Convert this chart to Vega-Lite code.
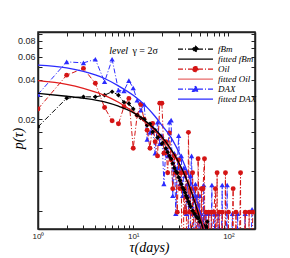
{
  "$schema": "https://vega.github.io/schema/vega-lite/v6.json",
  "width": 217,
  "height": 197,
  "autosize": {"type": "none"},
  "padding": {"left": 38, "top": 32, "right": 35, "bottom": 29},
  "config": {
    "view": {"stroke": "#222", "strokeWidth": 1.5},
    "axis": {"grid": false, "domainColor": "#222", "domainWidth": 1.5, "tickColor": "#222", "tickSize": -4, "tickWidth": 1, "labelColor": "#222", "labelFont": "Liberation Sans", "labelFontSize": 9, "labelOverlap": false, "labelFlush": false},
    "legend": {"rowPadding": 0}
  },
  "datasets": {
    "dax": [
      {"t":1,"p":0.031},{"t":2,"p":0.055},{"t":3,"p":0.054},{"t":4,"p":0.0575},{"t":5,"p":0.0387},{"t":6,"p":0.0575},{"t":7,"p":0.0334},{"t":8,"p":0.033},{"t":9,"p":0.0395},{"t":10,"p":0.0347},
      {"t":11,"p":0.028},{"t":12,"p":0.0235},{"t":13,"p":0.026},{"t":14,"p":0.014},{"t":15,"p":0.0159},{"t":16,"p":0.0175},{"t":17,"p":0.011},{"t":18,"p":0.019},{"t":19,"p":0.013},{"t":20,"p":0.015},
      {"t":21,"p":0.0064},{"t":22,"p":0.012},{"t":23,"p":0.0105},{"t":24,"p":0.019},{"t":25,"p":0.0197},{"t":26,"p":0.0052},{"t":27,"p":0.011},{"t":28,"p":0.0038},{"t":29,"p":0.0085},{"t":30,"p":0.015},
      {"t":31,"p":0.0064},{"t":32,"p":0.0105},{"t":33,"p":0.0052},{"t":34,"p":0.0085},{"t":35,"p":0.0074},{"t":36,"p":0.0038},{"t":37,"p":0.0064},{"t":38,"p":0.0052},{"t":39,"p":0.0001},{"t":40,"p":0.0074},
      {"t":41,"p":0.0105},{"t":42,"p":0.0038},{"t":43,"p":0.0052},{"t":44,"p":0.0001},{"t":45,"p":0.0064},{"t":46,"p":0.0038},{"t":47,"p":0.0052},{"t":48,"p":0.0001},{"t":49,"p":0.0038},{"t":50,"p":0.0052},
      {"t":51,"p":0.0001},{"t":52,"p":0.0038},{"t":53,"p":0.0001},{"t":55,"p":0.0063},{"t":56,"p":0.0001},{"t":58,"p":0.0038},{"t":60,"p":0.0001},{"t":62,"p":0.0038},{"t":63,"p":0.0001},{"t":67,"p":0.0063},
      {"t":68,"p":0.0001},{"t":72,"p":0.0038},{"t":73,"p":0.0001},{"t":78,"p":0.0038},{"t":79,"p":0.0001},{"t":86,"p":0.0063},{"t":87,"p":0.0001},{"t":97,"p":0.0063},{"t":98,"p":0.0001},{"t":110,"p":0.0038},
      {"t":111,"p":0.0001},{"t":125,"p":0.0038},{"t":127,"p":0.0001},{"t":150,"p":0.0038},{"t":152,"p":0.0001},{"t":177,"p":0.0041}
    ],
    "oil": [
      {"t":1,"p":0.024},{"t":2,"p":0.0435},{"t":3,"p":0.049},{"t":4,"p":0.0377},{"t":5,"p":0.0246},{"t":6,"p":0.0195},{"t":7,"p":0.0185},{"t":8,"p":0.025},{"t":9,"p":0.0289},{"t":10,"p":0.012},
      {"t":11,"p":0.0215},{"t":12,"p":0.026},{"t":13,"p":0.02},{"t":14,"p":0.0165},{"t":15,"p":0.012},{"t":16,"p":0.0186},{"t":17,"p":0.0135},{"t":18,"p":0.0105},{"t":19,"p":0.0265},{"t":20,"p":0.0265},
      {"t":21,"p":0.011},{"t":22,"p":0.0135},{"t":23,"p":0.0078},{"t":24,"p":0.0157},{"t":25,"p":0.0098},{"t":26,"p":0.0059},{"t":27,"p":0.0105},{"t":28,"p":0.0078},{"t":29,"p":0.0039},{"t":30,"p":0.0098},
      {"t":31,"p":0.0059},{"t":32,"p":0.0078},{"t":33,"p":0.0001},{"t":34,"p":0.0059},{"t":35,"p":0.0039},{"t":36,"p":0.0078},{"t":37,"p":0.0001},{"t":38,"p":0.0159},{"t":39,"p":0.0039},{"t":40,"p":0.0059},
      {"t":41,"p":0.0001},{"t":42,"p":0.0078},{"t":43,"p":0.0039},{"t":44,"p":0.0001},{"t":45,"p":0.0059},{"t":46,"p":0.0039},{"t":47,"p":0.0001},{"t":48,"p":0.01},{"t":49,"p":0.0039},{"t":50,"p":0.0001},
      {"t":52,"p":0.0059},{"t":53,"p":0.0001},{"t":54,"p":0.0059},{"t":56,"p":0.01},{"t":57,"p":0.0001},{"t":58,"p":0.0039},{"t":60,"p":0.0001},{"t":62,"p":0.0039},{"t":64,"p":0.0001},{"t":66,"p":0.0039},
      {"t":68,"p":0.0001},{"t":70,"p":0.0039},{"t":73,"p":0.0059},{"t":74,"p":0.0001},{"t":76,"p":0.0078},{"t":77,"p":0.0001},{"t":80,"p":0.0039},{"t":82,"p":0.0001},{"t":86,"p":0.0039},{"t":88,"p":0.0001},
      {"t":93,"p":0.0078},{"t":94,"p":0.0001},{"t":100,"p":0.0039},{"t":102,"p":0.0001},{"t":112,"p":0.0059},{"t":113,"p":0.0001},{"t":120,"p":0.0039},{"t":122,"p":0.0001},{"t":134,"p":0.0078},{"t":135,"p":0.0001},
      {"t":150,"p":0.0039},{"t":152,"p":0.0001},{"t":165,"p":0.0039},{"t":167,"p":0.0001},{"t":180,"p":0.0039}
    ],
    "fbm": [
      {"t":1,"p":0.0175},{"t":2,"p":0.029},{"t":3,"p":0.0297},{"t":4,"p":0.0297},{"t":5,"p":0.0306},{"t":6,"p":0.0325},{"t":7,"p":0.0306},{"t":8,"p":0.027},{"t":9,"p":0.0264},{"t":10,"p":0.024},
      {"t":11,"p":0.0215},{"t":12,"p":0.0205},{"t":13,"p":0.02},{"t":14,"p":0.018},{"t":15,"p":0.0185},{"t":16,"p":0.016},{"t":17,"p":0.0165},{"t":18,"p":0.0145},{"t":19,"p":0.015},{"t":20,"p":0.013},
      {"t":21,"p":0.0135},{"t":22,"p":0.012},{"t":23,"p":0.0112},{"t":24,"p":0.0105},{"t":25,"p":0.01},{"t":26,"p":0.0092},{"t":27,"p":0.0085},{"t":28,"p":0.008},{"t":29,"p":0.0078},{"t":30,"p":0.0072},
      {"t":31,"p":0.0068},{"t":32,"p":0.0064},{"t":33,"p":0.006},{"t":34,"p":0.0058},{"t":35,"p":0.0055},{"t":36,"p":0.0052},{"t":37,"p":0.005},{"t":38,"p":0.0047},{"t":39,"p":0.0045},{"t":40,"p":0.0043},
      {"t":42,"p":0.004},{"t":44,"p":0.0038},{"t":46,"p":0.0036},{"t":48,"p":0.0035},{"t":50,"p":0.0033},{"t":52,"p":0.0033},{"t":55,"p":0.0031},{"t":58,"p":0.003},{"t":60,"p":0.0033},{"t":62,"p":0.0001}
    ],
    "fitDax": [
      {"t":1,"p":0.052},{"t":2,"p":0.0495},{"t":3,"p":0.0465},{"t":5,"p":0.041},{"t":7,"p":0.036},{"t":10,"p":0.0305},{"t":13,"p":0.026},{"t":17,"p":0.021},{"t":20,"p":0.018},{"t":25,"p":0.0145},
      {"t":30,"p":0.0113},{"t":35,"p":0.0088},{"t":40,"p":0.0068},{"t":45,"p":0.0052},{"t":50,"p":0.004},{"t":55,"p":0.003},{"t":60,"p":0.0023}
    ],
    "fitOil": [
      {"t":1,"p":0.0395},{"t":2,"p":0.037},{"t":3,"p":0.0345},{"t":5,"p":0.0305},{"t":7,"p":0.027},{"t":10,"p":0.0228},{"t":13,"p":0.0195},{"t":17,"p":0.0163},{"t":20,"p":0.0143},{"t":25,"p":0.0115},
      {"t":30,"p":0.0092},{"t":35,"p":0.0073},{"t":40,"p":0.0058},{"t":45,"p":0.0046},{"t":50,"p":0.0037},{"t":55,"p":0.003},{"t":60,"p":0.0024}
    ],
    "fitFbm": [
      {"t":1,"p":0.0316},{"t":2,"p":0.03},{"t":3,"p":0.029},{"t":5,"p":0.0272},{"t":7,"p":0.0252},{"t":10,"p":0.0225},{"t":13,"p":0.0198},{"t":17,"p":0.0167},{"t":20,"p":0.0147},{"t":25,"p":0.0118},
      {"t":30,"p":0.0094},{"t":35,"p":0.0074},{"t":40,"p":0.0058},{"t":45,"p":0.0045},{"t":50,"p":0.0035},{"t":55,"p":0.0028}
    ],
    "legend": [
      {"s":"fBm","t":1,"p":0.0001},{"s":"fitted fBm","t":1,"p":0.0001},{"s":"Oil","t":1,"p":0.0001},{"s":"fitted Oil","t":1,"p":0.0001},{"s":"DAX","t":1,"p":0.0001},{"s":"fitted DAX","t":1,"p":0.0001}
    ],
    "notes": [
      {"t":5.6,"p":0.067,"txt":"level"},{"t":9.8,"p":0.067,"txt":"γ = 2σ"}
    ]
  },
  "layer": [
    {
      "data": {"name": "dax"},
      "mark": {"type": "line", "color": "#2b2bff", "strokeWidth": 1, "strokeDash": [5, 2, 1, 2], "clip": true,
        "point": {"filled": true, "shape": "triangle-up", "size": 28, "color": "#2b2bff", "opacity": 1}},
      "encoding": {
        "x": {"field": "t", "type": "quantitative",
          "scale": {"type": "log", "domain": [1, 190], "nice": false},
          "axis": {"orient": "bottom", "values": [1,2,3,4,5,6,7,8,9,10,20,30,40,50,60,70,80,90,100],
            "labelExpr": "datum.value == 1 ? '10⁰' : datum.value == 10 ? '10¹' : datum.value == 100 ? '10²' : ''",
            "labelPadding": 7, "labelFontSize": 8,
            "title": "τ(days)", "titleFont": "Liberation Serif", "titleFontStyle": "italic", "titleFontWeight": "normal", "titleFontSize": 14,
            "titleX": 111, "titleY": 18, "titleBaseline": "middle", "titleAlign": "center", "titleColor": "#000"}},
        "y": {"field": "p", "type": "quantitative",
          "scale": {"type": "log", "domain": [0.0029, 0.093], "nice": false},
          "axis": {"orient": "left", "values": [0.004,0.008,0.012,0.016,0.02,0.03,0.04,0.05,0.06,0.07,0.08,0.09],
            "labelExpr": "(datum.value == 0.02 || datum.value == 0.04 || datum.value == 0.06 || datum.value == 0.08) ? format(datum.value, '.2f') : ''",
            "labelPadding": 7,
            "title": "p(τ)", "titleFont": "Liberation Serif", "titleFontStyle": "italic", "titleFontWeight": "normal", "titleFontSize": 14,
            "titleX": -20, "titleY": 106, "titleBaseline": "middle", "titleAlign": "center", "titleColor": "#000"}}
      }
    },
    {
      "data": {"name": "oil"},
      "mark": {"type": "line", "color": "#d41414", "strokeWidth": 1, "strokeDash": [5, 2, 1, 2], "clip": true,
        "point": {"filled": true, "shape": "circle", "size": 24, "color": "#d41414", "opacity": 1}},
      "encoding": {
        "x": {"field": "t", "type": "quantitative", "axis": null},
        "y": {"field": "p", "type": "quantitative", "axis": null}
      }
    },
    {
      "data": {"name": "fbm"},
      "mark": {"type": "line", "color": "#000000", "strokeWidth": 1, "strokeDash": [5, 2, 1, 2], "clip": true,
        "point": {"filled": true, "shape": "diamond", "size": 22, "color": "#000000", "opacity": 1}},
      "encoding": {
        "x": {"field": "t", "type": "quantitative", "axis": null},
        "y": {"field": "p", "type": "quantitative", "axis": null}
      }
    },
    {
      "data": {"name": "fitDax"},
      "mark": {"type": "line", "color": "#2b2bff", "strokeWidth": 1.3, "interpolate": "monotone", "clip": true},
      "encoding": {
        "x": {"field": "t", "type": "quantitative", "axis": null},
        "y": {"field": "p", "type": "quantitative", "axis": null}
      }
    },
    {
      "data": {"name": "fitOil"},
      "mark": {"type": "line", "color": "#e01e1e", "strokeWidth": 1.3, "interpolate": "monotone", "clip": true},
      "encoding": {
        "x": {"field": "t", "type": "quantitative", "axis": null},
        "y": {"field": "p", "type": "quantitative", "axis": null}
      }
    },
    {
      "data": {"name": "fitFbm"},
      "mark": {"type": "line", "color": "#000000", "strokeWidth": 1.3, "interpolate": "monotone", "clip": true},
      "encoding": {
        "x": {"field": "t", "type": "quantitative", "axis": null},
        "y": {"field": "p", "type": "quantitative", "axis": null}
      }
    },
    {
      "data": {"name": "notes"},
      "transform": [{"filter": "datum.txt == 'level'"}],
      "mark": {"type": "text", "font": "Liberation Serif", "fontStyle": "italic", "fontSize": 10, "align": "left", "baseline": "middle", "color": "#000"},
      "encoding": {
        "x": {"field": "t", "type": "quantitative", "axis": null},
        "y": {"field": "p", "type": "quantitative", "axis": null},
        "text": {"field": "txt"}
      }
    },
    {
      "data": {"name": "notes"},
      "transform": [{"filter": "datum.txt != 'level'"}],
      "mark": {"type": "text", "font": "Liberation Serif", "fontSize": 10, "align": "left", "baseline": "middle", "color": "#000"},
      "encoding": {
        "x": {"field": "t", "type": "quantitative", "axis": null},
        "y": {"field": "p", "type": "quantitative", "axis": null},
        "text": {"field": "txt"}
      }
    },
    {
      "data": {"name": "legend"},
      "mark": {"type": "point", "filled": true, "opacity": 1, "size": 49, "clip": true, "strokeWidth": 1.2},
      "encoding": {
        "x": {"field": "t", "type": "quantitative", "axis": null},
        "y": {"field": "p", "type": "quantitative", "axis": null},
        "fill": {"field": "s", "type": "nominal",
          "scale": {"domain": ["fBm","fitted fBm","Oil","fitted Oil","DAX","fitted DAX"], "range": ["#000000","#000000","#d41414","#e86a6a","#2b2bff","#2b2bff"]},
          "legend": {"title": null, "orient": "none", "legendX": 140, "legendY": 12.4, "padding": 0, "symbolSize": 49, "symbolStrokeWidth": 1.2,
            "labelFont": "Liberation Serif", "labelFontStyle": "italic", "labelFontSize": 9, "labelOffset": 31, "rowPadding": 0, "clipHeight": 9.4,
            "labelColor": "#000", "symbolOpacity": 1}},
        "stroke": {"field": "s", "type": "nominal",
          "scale": {"domain": ["fBm","fitted fBm","Oil","fitted Oil","DAX","fitted DAX"], "range": ["#000000","#000000","#d41414","#e86a6a","#2b2bff","#2b2bff"]}},
        "shape": {"field": "s", "type": "nominal",
          "scale": {"domain": ["fBm","fitted fBm","Oil","fitted Oil","DAX","fitted DAX"],
            "range": [
              "M-1.29,0H8.71M3.71,-0.86L4.57,0L3.71,0.86L2.85,0Z",
              "M-1.29,0H8.71",
              "M-1.29,0H8.71M2.96,0A0.75,0.75 0 1,0 4.46,0A0.75,0.75 0 1,0 2.96,0Z",
              "M-1.29,0H8.71",
              "M-1.29,0H8.71M3.71,-0.9L4.56,0.65L2.86,0.65Z",
              "M-1.29,0H8.71"
            ]}},
        "strokeDash": {"field": "s", "type": "nominal",
          "scale": {"domain": ["fBm","fitted fBm","Oil","fitted Oil","DAX","fitted DAX"], "range": [[5,2,1,2],[1,0],[5,2,1,2],[1,0],[5,2,1,2],[1,0]]}}
      }
    },
    {
      "data": {"values": [{"t": 1, "p": 0.0001}]},
      "mark": {"type": "point", "opacity": 0, "clip": true},
      "encoding": {
        "x": {"field": "t", "type": "quantitative",
          "axis": {"orient": "top", "values": [1,2,3,4,5,6,7,8,9,10,20,30,40,50,60,70,80,90,100], "labels": false, "title": null}},
        "y": {"field": "p", "type": "quantitative",
          "axis": {"orient": "right", "values": [0.004,0.008,0.012,0.016,0.02,0.03,0.04,0.05,0.06,0.07,0.08,0.09], "labels": false, "title": null}}
      }
    }
  ]
}
